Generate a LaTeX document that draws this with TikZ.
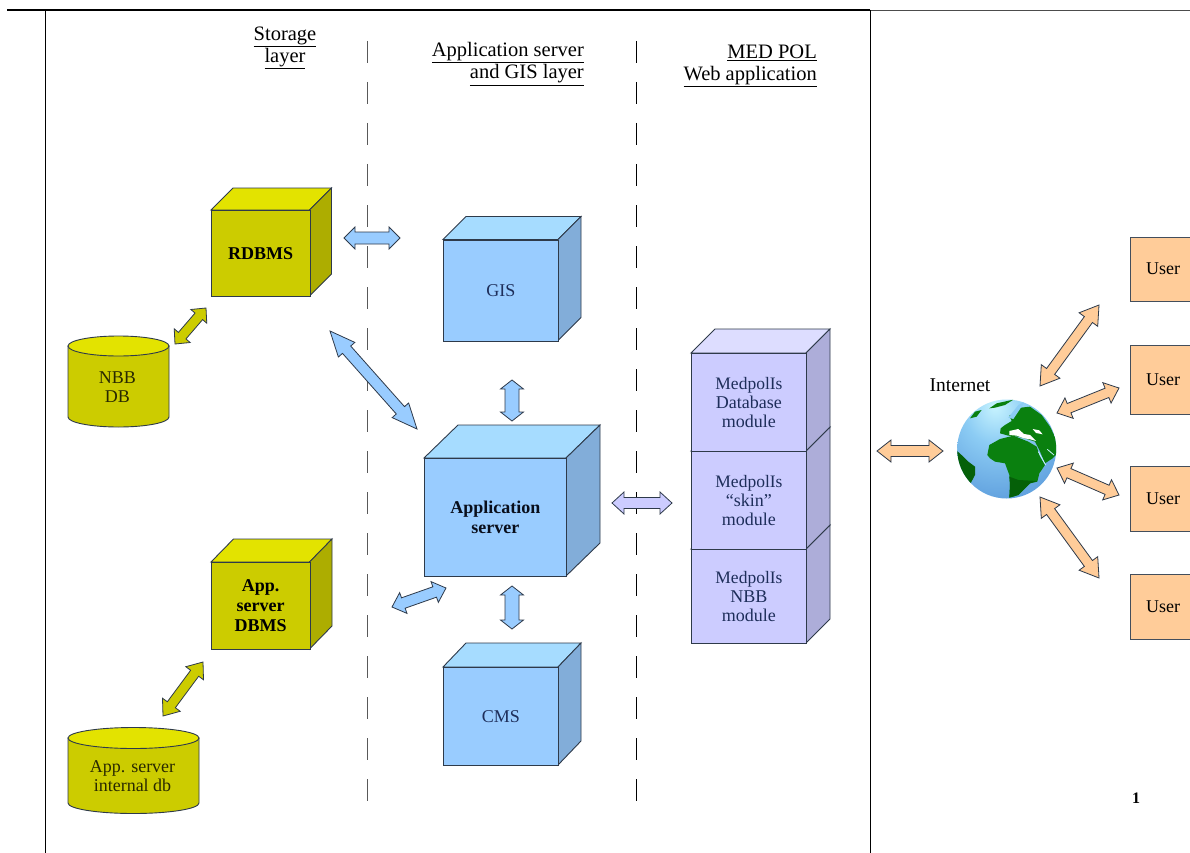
\documentclass[tikz,border=0pt]{standalone}
\usepackage{fontspec}
\setmainfont{Liberation Serif}
\definecolor{yF}{HTML}{CCCC00}\definecolor{yT}{HTML}{E3E300}\definecolor{yS}{HTML}{ADAD00}
\definecolor{bF}{HTML}{99CCFF}\definecolor{bT}{HTML}{A6DCFF}\definecolor{bS}{HTML}{82ADD9}
\definecolor{lF}{HTML}{CCCCFF}\definecolor{lT}{HTML}{DDDDFF}\definecolor{lS}{HTML}{ADADD9}
\definecolor{oF}{HTML}{FFCC99}
\definecolor{edge}{HTML}{2E3A4A}
\definecolor{navy}{HTML}{1E2E5A}
\definecolor{gA}{HTML}{C8F4FF}\definecolor{gB}{HTML}{8CCCF4}\definecolor{gC}{HTML}{5C9CDC}\definecolor{gD}{HTML}{3468B0}
\definecolor{land}{HTML}{0A800F}\definecolor{landd}{HTML}{056008}
\pgfdeclareradialshading{globeshade}{\pgfpoint{-6bp}{22bp}}{color(0bp)=(gA);color(16bp)=(gB);color(42bp)=(gC);color(68bp)=(gD);color(100bp)=(gD)}
\newcommand{\modfont}{\fontsize{17.5}{19}\selectfont}
\tikzset{
  lbl/.style={font=\fontsize{18}{19}\selectfont,align=center,inner sep=0pt},
  hdr/.style={font=\fontsize{20.5}{22}\selectfont,inner sep=0pt},
  facepath/.style={draw=edge,line width=0.9pt,line join=miter},
  frontface/.style={draw=edge,line width=0.9pt,inner sep=0pt,anchor=north west,lbl},
  divider/.style={line width=0.9pt,dash pattern=on 22pt off 19pt},
  blockarrow/.style={draw=edge,line width=0.8pt,line join=miter},
  userbox/.style={draw=edge!90,line width=0.9pt,fill=oF,minimum width=66pt,inner sep=0pt,lbl}
}
\newcommand{\cubeshape}[9]{%
  \fill[#9,facepath] (#2,#3) -- ++(#6,-#7) -- ++(#4,0) -- ++(-#6,#7) -- cycle;
  \def\cubeX{#2}\def\cubeY{#3}\def\cubeW{#4}\def\cubeH{#5}\def\cubeDX{#6}\def\cubeDY{#7}\def\cubeF{#8}%
  \cubeshapeB{#1}}
\newcommand{\cubeshapeB}[4]{%
  \fill[#2,facepath] (\cubeX+\cubeW,\cubeY) -- ++(\cubeDX,-\cubeDY) -- ++(0,\cubeH) -- ++(-\cubeDX,\cubeDY) -- cycle;
  \node[frontface,fill=\cubeF,minimum width=\cubeW pt,minimum height=\cubeH pt,text=#3] (#1) at (\cubeX,\cubeY) {#4};}
\newcommand{\cylshape}[7]{%
  \pgfmathsetmacro{\cylcx}{(#2+#3)/2}\pgfmathsetmacro{\cylrx}{(#3-#2)/2}
  \fill[yF,facepath] (#2,#4) -- (#2,#5) arc[start angle=180,end angle=360,x radius=\cylrx pt,y radius=#6 pt] -- (#3,#4) -- cycle;
  \fill[yT,facepath] (\cylcx,#4) ellipse[x radius=\cylrx pt,y radius=#6 pt];
  \node[lbl,text=black!80!yF] (#1) at (\cylcx-1,{(#4+#5)/2+5.5}) {#7};}
% name x1 y1 x2 y2 shaft head headlength fill
\newcommand{\darrow}[9]{%
  \coordinate (#1a) at (#2,#3);\coordinate (#1b) at (#4,#5);
  \pgfmathsetmacro{\dL}{veclen(#4-#2,#5-#3)}
  \pgfmathsetmacro{\ux}{(#4-#2)/\dL}\pgfmathsetmacro{\uy}{(#5-#3)/\dL}
  \pgfmathsetmacro{\sx}{-\uy*#6/2}\pgfmathsetmacro{\sy}{\ux*#6/2}
  \pgfmathsetmacro{\hx}{-\uy*#7/2}\pgfmathsetmacro{\hy}{\ux*#7/2}
  \pgfmathsetmacro{\lx}{\ux*#8}\pgfmathsetmacro{\ly}{\uy*#8}
  \filldraw[blockarrow,fill=#9] (#1a)
    -- ({#2+\lx+\hx},{#3+\ly+\hy}) -- ({#2+\lx+\sx},{#3+\ly+\sy})
    -- ({#4-\lx+\sx},{#5-\ly+\sy}) -- ({#4-\lx+\hx},{#5-\ly+\hy})
    -- (#1b)
    -- ({#4-\lx-\hx},{#5-\ly-\hy}) -- ({#4-\lx-\sx},{#5-\ly-\sy})
    -- ({#2+\lx-\sx},{#3+\ly-\sy}) -- ({#2+\lx-\hx},{#3+\ly-\hy}) -- cycle;}
\begin{document}
\begin{tikzpicture}[x=1pt,y=-1pt]
\useasboundingbox (0,0) rectangle (1190,853);
\clip (0,0) rectangle (1190,853);
\fill[white] (0,0) rectangle (1190,853);
\draw[line width=2pt,black] (7,10) -- (870,10);
\draw[line width=0.8pt,black!70] (870,10) -- (1190,10);
\draw[line width=1.1pt,black] (45.5,10) -- (45.5,853);
\draw[line width=1.1pt,black] (870.5,10) -- (870.5,853);
\draw[divider,black!65] (367,41) -- (367,802);
\draw[divider,black] (636,41) -- (636,802);
\node[hdr,align=center] (hStorage) at (285,47.5) {\underline{Storage}\\\underline{layer}};
\node[hdr,align=right,anchor=east] (hApp) at (584,64) {\underline{Application server}\\\underline{and GIS layer}};
\node[hdr,align=right,anchor=east] (hMed) at (817,66) {\underline{MED POL}\\\underline{Web application}};
\cubeshape{rdbms}{211}{210}{98.5}{86}{22}{22}{yF}{yT}{yS}{black}{\textbf{RDBMS}}
\cubeshape{gis}{443}{239.5}{115}{101}{23}{23}{bF}{bT}{bS}{navy}{GIS}
\cubeshape{appsrv}{424}{458}{142}{118}{34}{33}{bF}{bT}{bS}{black!70!navy}{\textbf{Application}\\[1pt]\textbf{server}}
\cubeshape{cms}{443}{667}{115}{98}{23}{24}{bF}{bT}{bS}{navy}{CMS}
\cubeshape{appdbms}{211}{562}{98.5}{87}{22.5}{23}{yF}{yT}{yS}{black}{\textbf{App.}\\[1pt]\textbf{server}\\[1pt]\textbf{DBMS}}
\cubeshape{modnbb}{691}{549}{115}{94}{24}{24}{lF}{lT}{lS}{navy}{\modfont MedpolIs\\NBB\\module}
\cubeshape{modskin}{691}{451}{115}{98}{24}{24}{lF}{lT}{lS}{navy}{\modfont MedpolIs\\“skin”\\module}
\cubeshape{moddb}{691}{353}{115}{98}{24}{24}{lF}{lT}{lS}{navy}{\modfont MedpolIs\\Database\\module}
\cylshape{nbb}{68}{169}{346}{417}{10}{NBB\\DB}
\cylshape{intdb}{68}{199}{738}{803}{10.5}{App. server\\internal db}
\node[userbox,minimum height=64pt] (user1) at (1163,269) {User};
\node[userbox,minimum height=69pt] (user2) at (1163,379.5) {User};
\node[userbox,minimum height=65pt] (user3) at (1163,498.5) {User};
\node[userbox,minimum height=65pt] (user4) at (1163,606.5) {User};
\node[lbl,font=\fontsize{19.5}{20}\selectfont] (internet) at (960,385) {Internet};
\node[circle,minimum size=99pt,inner sep=0pt] (globe) at (1006.7,449) {};
\shade[shading=globeshade] (1006.7,449) circle[radius=49.5pt];
\begin{scope}
\clip (1006.7,449) circle[radius=49.5pt];
\begin{scope}[shift={(950,395)},x=0.3333pt,y=-0.3333pt]
\fill[land] (152,100) -- (165,90) -- (185,78) -- (178,62) -- (200,50) -- (212,38) -- (240,35) -- (275,60) -- (300,95) -- (322,140) -- (322,175) -- (308,190) -- (285,205) -- (268,165) -- (255,140) -- (240,135) -- (205,125) -- (175,122) -- (150,115) -- cycle;
\fill[land] (112,180) -- (118,150) -- (150,132) -- (190,122) -- (235,140) -- (260,155) -- (270,185) -- (285,210) -- (268,235) -- (262,260) -- (240,265) -- (205,300) -- (178,308) -- (180,270) -- (178,240) -- (165,205) -- (135,200) -- (120,190) -- cycle;
\fill[landd] (178,308) -- (180,270) -- (178,245) -- (205,255) -- (262,258) -- (240,265) -- (205,300) -- cycle;
\fill[landd] (18,165) -- (40,185) -- (55,200) -- (75,215) -- (75,240) -- (55,278) -- (25,250) -- cycle;
\fill[land] (118,40) -- (140,25) -- (190,14) -- (165,30) -- (135,38) -- cycle;
\fill[land] (60,70) -- (75,50) -- (95,45) -- (80,65) -- cycle;
\fill[gB] (205,30) -- (225,20) -- (190,72) -- (175,68) -- cycle;
\fill[white] (178,108) -- (205,102) -- (222,117) -- (240,120) -- (258,138) -- (240,133) -- (222,130) -- (200,122) -- (178,120) -- cycle;
\fill[white] (248,102) -- (268,106) -- (278,118) -- (258,114) -- cycle;
\draw[gA,line width=0.8pt] (265,170) -- (287,210);
\draw[gA,line width=0.8pt] (292,163) -- (312,180);
\end{scope}
\end{scope}
\darrow{aRdbGis}{344}{238}{400}{238}{12}{22}{11}{bF}
\darrow{aRdbNbb}{175}{344}{206}{308}{10}{21}{11}{yF}
\darrow{aRdbApp}{330}{331}{417}{429}{11}{22}{25}{bF}
\darrow{aGisApp}{512}{380}{512}{421}{14}{23}{9}{bF}
\darrow{aAppCms}{512}{586}{512}{629}{14}{23}{9}{bF}
\darrow{aAppMod}{612}{503}{672}{503}{11}{22}{12}{lF}
\darrow{aAppDbms}{392}{607}{446}{588}{11}{22}{12}{bF}
\darrow{aDbmsInt}{163}{716}{203}{662}{10}{22}{14}{yF}
\darrow{aNetApp}{877}{451}{943}{451}{11}{22}{14}{oF}
\darrow{aU1}{1040}{386}{1099}{305}{10}{23}{18}{oF}
\darrow{aU2}{1057}{413}{1119}{388}{10}{22}{13}{oF}
\darrow{aU3}{1057}{468}{1119}{495}{10}{22}{13}{oF}
\darrow{aU4}{1040}{497}{1099}{578}{10}{23}{18}{oF}
\node[inner sep=0pt,font=\fontsize{16}{16}\selectfont\bfseries] (pageno) at (1136,798) {1};
\end{tikzpicture}
\end{document}
